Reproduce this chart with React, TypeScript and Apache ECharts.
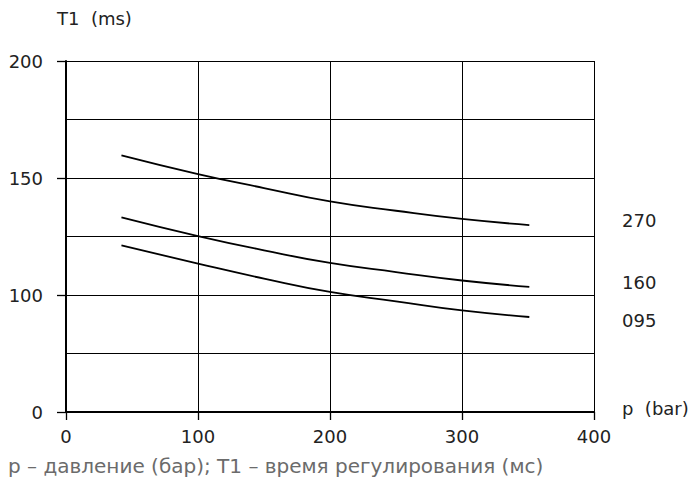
import React, { useEffect, useRef } from "react";
import * as echarts from "echarts";

const pressure = [42, 100, 150, 200, 250, 300, 351];
const curve270 = [159.7, 151.7, 145.7, 140.0, 136.0, 132.5, 129.9];
const curve160 = [133.2, 125.2, 119.1, 113.7, 109.8, 106.2, 103.5];
const curve095 = [121.2, 113.4, 107.0, 101.3, 97.3, 93.4, 90.6];
const curveNames = ["270", "160", "095"];
const xTicks = [0, 100, 200, 300, 400];
const yTicks = [50, 100, 150, 200];
const yTickLabels = ["0", "100", "150", "200"];

const FONT = "DejaVu Sans";

export default function App() {
  const ref = useRef<HTMLDivElement>(null);
  useEffect(() => {
    if (!ref.current) return;
    const chart = echarts.init(ref.current, null, { renderer: "svg" });
    const mk = (vals: number[]) => pressure.map((p, i) => [p, vals[i]]);
    const series: any[] = [curve270, curve160, curve095].map((vals, i) => ({
      name: curveNames[i],
      type: "line",
      data: mk(vals),
      smooth: true,
      showSymbol: false,
      lineStyle: { color: "#000", width: 1.8 },
      xAxisIndex: 0,
      yAxisIndex: 0,
    }));
    const txt = (text: string, left: number, top: number) => ({
      type: "text",
      left,
      top,
      style: { text, font: `18px "${FONT}"`, fill: "#222" },
    });
    const baseGraphic: any[] = [
      txt("T1  (ms)", 57, 9),
      txt("p  (bar)", 622, 399),
      txt(curveNames[0], 622, 211),
      txt(curveNames[1], 622, 273),
      txt(curveNames[2], 622, 311),
      {
        type: "text",
        left: 8,
        top: 456,
        style: {
          text: "p – давление (бар); T1 – время регулирования (мс)",
          font: '20px "DejaVu Sans"',
          fill: "#6b6b6b",
        },
      },
    ];
    chart.setOption({
      animation: false,
      backgroundColor: "#fff",
      textStyle: { fontFamily: FONT },
      grid: { left: 66, right: 101, top: 61, bottom: 74, containLabel: false },
      xAxis: {
        type: "value",
        min: xTicks[0],
        max: xTicks[xTicks.length - 1],
        interval: 100,
        axisLine: { show: true, lineStyle: { color: "#000", width: 2 } },
        axisTick: { show: true, inside: false, length: 8, lineStyle: { color: "#000", width: 1.3 } },
        axisLabel: { color: "#222", fontSize: 18, margin: 15, fontFamily: FONT },
        splitLine: { show: true, lineStyle: { color: "#000", width: 1 } },
      },
      yAxis: [
        {
          type: "value",
          min: 50,
          max: 200,
          interval: 25,
          axisLine: { show: true, onZero: false, lineStyle: { color: "#000", width: 2 } },
          axisTick: { show: false },
          axisLabel: { show: false },
          splitLine: { show: true, lineStyle: { color: "#000", width: 1 } },
        },
        {
          type: "value",
          position: "left",
          min: 50,
          max: 200,
          interval: 50,
          axisLine: { show: false },
          axisTick: { show: true, inside: false, length: 9, lineStyle: { color: "#000", width: 1.3 } },
          axisLabel: {
            color: "#222",
            fontSize: 18,
            margin: 23,
            fontFamily: FONT,
            formatter: (v: number) => {
              const idx = yTicks.indexOf(v);
              return idx >= 0 ? yTickLabels[idx] : "";
            },
          },
          splitLine: { show: false },
        },
      ],
      graphic: baseGraphic,
      series,
    });
    return () => chart.dispose();
  }, []);
  return <div ref={ref} style={{ width: 695, height: 486, position: "absolute", left: 0, top: 0 }} />;
}
